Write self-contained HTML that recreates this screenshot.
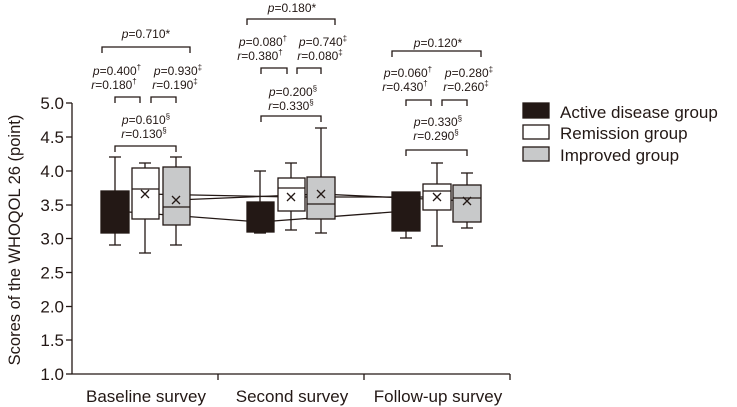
<!DOCTYPE html>
<html><head><meta charset="utf-8"><style>body{margin:0;background:#fff}svg{display:block}</style></head><body>
<svg width="737" height="407" viewBox="0 0 737 407" xmlns="http://www.w3.org/2000/svg" font-family="Liberation Sans, sans-serif" fill="#231815">
<g stroke="#231815" stroke-width="1.3" fill="none">
<!-- axes -->
<line x1="72" y1="103" x2="72" y2="374"/>
<line x1="72" y1="374" x2="510" y2="374"/>
<line x1="66" y1="103" x2="72" y2="103"/><line x1="66" y1="137" x2="72" y2="137"/><line x1="66" y1="171" x2="72" y2="171"/><line x1="66" y1="205" x2="72" y2="205"/><line x1="66" y1="238.5" x2="72" y2="238.5"/><line x1="66" y1="272.5" x2="72" y2="272.5"/><line x1="66" y1="306.5" x2="72" y2="306.5"/><line x1="66" y1="340" x2="72" y2="340"/><line x1="66" y1="374" x2="72" y2="374"/>
<line x1="218" y1="374" x2="218" y2="380"/><line x1="364" y1="374" x2="364" y2="380"/><line x1="510" y1="374" x2="510" y2="380"/>
<!-- mean lines -->
<polyline points="145,194 291,197 437,197"/>
<polyline points="176,200 321,194 467,201"/>
<polyline points="115,211 260,222 406,211"/>
<!-- whiskers -->
<line x1="115" y1="157" x2="115" y2="245"/><line x1="109" y1="157" x2="121" y2="157"/><line x1="109" y1="245" x2="121" y2="245"/>
<line x1="145" y1="163" x2="145" y2="253"/><line x1="139" y1="163" x2="151" y2="163"/><line x1="139" y1="253" x2="151" y2="253"/>
<line x1="176" y1="157" x2="176" y2="245"/><line x1="170" y1="157" x2="182" y2="157"/><line x1="170" y1="245" x2="182" y2="245"/>
<line x1="260" y1="171" x2="260" y2="233"/><line x1="254" y1="171" x2="266" y2="171"/><line x1="254" y1="233" x2="266" y2="233"/>
<line x1="291" y1="163" x2="291" y2="230"/><line x1="285" y1="163" x2="297" y2="163"/><line x1="285" y1="230" x2="297" y2="230"/>
<line x1="321" y1="128" x2="321" y2="233"/><line x1="315" y1="128" x2="327" y2="128"/><line x1="315" y1="233" x2="327" y2="233"/>
<line x1="406" y1="192" x2="406" y2="238"/><line x1="400" y1="238" x2="412" y2="238"/>
<line x1="437" y1="163" x2="437" y2="246"/><line x1="431" y1="163" x2="443" y2="163"/><line x1="431" y1="246" x2="443" y2="246"/>
<line x1="467" y1="173" x2="467" y2="228"/><line x1="461" y1="173" x2="473" y2="173"/><line x1="461" y1="228" x2="473" y2="228"/>
<!-- boxes -->
<rect x="101" y="191" width="28" height="42" fill="#231815"/>
<rect x="132" y="168" width="27" height="51" fill="#fff"/><line x1="132" y1="189" x2="159" y2="189"/>
<rect x="163" y="167" width="27" height="58" fill="#c8c9ca"/><line x1="163" y1="207" x2="190" y2="207"/>
<rect x="247" y="202" width="27" height="30" fill="#231815"/>
<rect x="278" y="178" width="27" height="33" fill="#fff"/><line x1="278" y1="188" x2="305" y2="188"/>
<rect x="307" y="177" width="28" height="42" fill="#c8c9ca"/><line x1="307" y1="204" x2="335" y2="204"/>
<rect x="392" y="192" width="28" height="39" fill="#231815"/>
<rect x="423" y="184" width="28" height="26" fill="#fff"/><line x1="423" y1="191" x2="451" y2="191"/>
<rect x="453" y="185" width="28" height="37" fill="#c8c9ca"/><line x1="453" y1="198" x2="481" y2="198"/>
<!-- means x -->
<path d="M141,190 l8,8 M149,190 l-8,8 M172,196 l8,8 M180,196 l-8,8 M287,193 l8,8 M295,193 l-8,8 M317,190 l8,8 M325,190 l-8,8 M433,193 l8,8 M441,193 l-8,8 M463,197 l8,8 M471,197 l-8,8"/>
<!-- brackets -->
<path d="M102,53 v-6 h88 v6 M115,103 v-6 h25 v6 M151,103 v-6 h25 v6 M115,152 v-6 h61 v6"/>
<path d="M247,25 v-6 h88 v6 M261,74 v-6 h26 v6 M297,74 v-6 h24 v6 M261,122 v-6 h60 v6"/>
<path d="M392,57 v-6 h89 v6 M406,106 v-6 h25 v6 M442,106 v-6 h25 v6 M406,156 v-6 h61 v6"/>
<!-- legend -->
<rect x="523" y="103" width="26" height="15" fill="#231815"/>
<rect x="523" y="125" width="26" height="14" fill="#fff"/>
<rect x="523" y="147" width="26" height="14" fill="#c8c9ca"/>
</g>
<g font-size="17" text-anchor="end">
<text x="64" y="109">5.0</text><text x="64" y="143">4.5</text><text x="64" y="177">4.0</text><text x="64" y="211">3.5</text><text x="64" y="244.5">3.0</text><text x="64" y="278.5">2.5</text><text x="64" y="312.5">2.0</text><text x="64" y="346">1.5</text><text x="64" y="380">1.0</text>
</g>
<text transform="translate(20,240) rotate(-90)" font-size="16.5" text-anchor="middle">Scores of the WHOQOL 26 (point)</text>
<g font-size="17" text-anchor="middle"><text x="146" y="402">Baseline survey</text><text x="292" y="402">Second survey</text><text x="438" y="402">Follow-up survey</text></g>
<g font-size="17"><text x="560" y="118">Active disease group</text><text x="560" y="139">Remission group</text><text x="560" y="161">Improved group</text></g>
<g font-size="12" text-anchor="middle">
<text x="146" y="38"><tspan font-style="italic">p</tspan>=0.710*</text>
<text x="117" y="75"><tspan font-style="italic">p</tspan>=0.400<tspan font-size="8" dy="-5">†</tspan></text>
<text x="114" y="89"><tspan font-style="italic">r</tspan>=0.180<tspan font-size="8" dy="-5">†</tspan></text>
<text x="178" y="75"><tspan font-style="italic">p</tspan>=0.930<tspan font-size="8" dy="-5">‡</tspan></text>
<text x="175" y="89"><tspan font-style="italic">r</tspan>=0.190<tspan font-size="8" dy="-5">‡</tspan></text>
<text x="146" y="124"><tspan font-style="italic">p</tspan>=0.610<tspan font-size="8" dy="-5">§</tspan></text>
<text x="144" y="138"><tspan font-style="italic">r</tspan>=0.130<tspan font-size="8" dy="-5">§</tspan></text>
<text x="292" y="12"><tspan font-style="italic">p</tspan>=0.180*</text>
<text x="263" y="46"><tspan font-style="italic">p</tspan>=0.080<tspan font-size="8" dy="-5">†</tspan></text>
<text x="260" y="60"><tspan font-style="italic">r</tspan>=0.380<tspan font-size="8" dy="-5">†</tspan></text>
<text x="323" y="46"><tspan font-style="italic">p</tspan>=0.740<tspan font-size="8" dy="-5">‡</tspan></text>
<text x="320" y="60"><tspan font-style="italic">r</tspan>=0.080<tspan font-size="8" dy="-5">‡</tspan></text>
<text x="293" y="96"><tspan font-style="italic">p</tspan>=0.200<tspan font-size="8" dy="-5">§</tspan></text>
<text x="291" y="110"><tspan font-style="italic">r</tspan>=0.330<tspan font-size="8" dy="-5">§</tspan></text>
<text x="438" y="47"><tspan font-style="italic">p</tspan>=0.120*</text>
<text x="408" y="77"><tspan font-style="italic">p</tspan>=0.060<tspan font-size="8" dy="-5">†</tspan></text>
<text x="405" y="91"><tspan font-style="italic">r</tspan>=0.430<tspan font-size="8" dy="-5">†</tspan></text>
<text x="469" y="77"><tspan font-style="italic">p</tspan>=0.280<tspan font-size="8" dy="-5">‡</tspan></text>
<text x="466" y="91"><tspan font-style="italic">r</tspan>=0.260<tspan font-size="8" dy="-5">‡</tspan></text>
<text x="438" y="126"><tspan font-style="italic">p</tspan>=0.330<tspan font-size="8" dy="-5">§</tspan></text>
<text x="436" y="140"><tspan font-style="italic">r</tspan>=0.290<tspan font-size="8" dy="-5">§</tspan></text>
</g>
</svg>
</body></html>
